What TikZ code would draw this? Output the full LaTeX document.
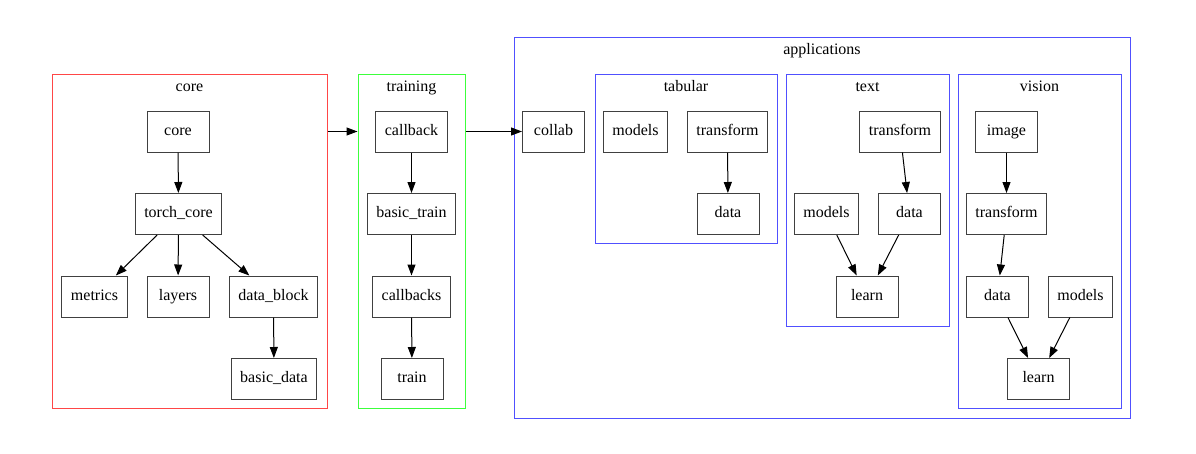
\documentclass[tikz,border=0pt]{standalone}
\usepackage{fontspec}
\setmainfont{Liberation Serif}
\usetikzlibrary{arrows.meta}

\definecolor{clred}{RGB}{255,70,70}
\definecolor{clgreen}{RGB}{60,255,60}
\definecolor{clblue}{RGB}{80,80,255}

\tikzset{
  mod/.style={draw=black!75, line width=1pt, minimum width=62, minimum height=41,
    inner xsep=9, text height=11, text depth=4, font=\fontsize{16}{19}\selectfont},
  grp/.style={draw=#1, line width=1pt, inner sep=0},
  ttl/.style={text height=11, text depth=4, font=\fontsize{16}{19}\selectfont},
  edge/.style={-{Triangle[length=11pt,width=8pt]}, line width=1pt}
}

\begin{document}
\begin{tikzpicture}[x=1pt, y=-1pt]
	\useasboundingbox (0,0) rectangle (1196,453);

	% clusters
	\node[grp=clred, minimum width=275, minimum height=334] (coreG) at (189.5,241) {};
	\node[grp=clgreen, minimum width=107, minimum height=334] (trainG) at (411.5,241) {};
	\node[grp=clblue, minimum width=616, minimum height=381] (appG) at (822,227.5) {};
	\node[grp=clblue, minimum width=182, minimum height=169] (tabG) at (686,158.5) {};
	\node[grp=clblue, minimum width=163, minimum height=252] (textG) at (867.5,200) {};
	\node[grp=clblue, minimum width=163, minimum height=334] (visG) at (1039.5,241) {};

	\node[ttl] (coreL) at (189.5,88) {core};
	\node[ttl] (trainL) at (411.5,88) {training};
	\node[ttl] (appL) at (822,51) {applications};
	\node[ttl] (tabL) at (686,88) {tabular};
	\node[ttl] (textL) at (867.5,88) {text};
	\node[ttl] (visL) at (1039.5,88) {vision};

	% core
	\node[mod] (core) at (178,131.5) {core};
	\node[mod] (torch) at (178.5,214) {torch\_core};
	\node[mod] (metrics) at (94.5,296.5) {metrics};
	\node[mod] (layers) at (178,296.5) {layers};
	\node[mod] (dblock) at (273.5,296.5) {data\_block};
	\node[mod] (bdata) at (274,379) {basic\_data};

	% training
	\node[mod] (cb) at (411.5,131.5) {callback};
	\node[mod] (btrain) at (411.5,214) {basic\_train};
	\node[mod] (cbs) at (411.5,296.5) {callbacks};
	\node[mod] (train) at (412,379) {train};

	% applications
	\node[mod] (collab) at (553.5,131.5) {collab};

	\node[mod] (tabmod) at (635.5,131.5) {models};
	\node[mod] (tabtf) at (727.5,131.5) {transform};
	\node[mod] (tabdata) at (728,214) {data};

	\node[mod] (txttf) at (900,131.5) {transform};
	\node[mod] (txtmod) at (826.5,214) {models};
	\node[mod] (txtdata) at (909.5,214) {data};
	\node[mod] (txtlearn) at (867,296.5) {learn};

	\node[mod] (visimg) at (1006.5,131.5) {image};
	\node[mod] (vistf) at (1006.5,214) {transform};
	\node[mod] (visdata) at (997.5,296.5) {data};
	\node[mod] (vismod) at (1080.5,296.5) {models};
	\node[mod] (vislearn) at (1038.5,379) {learn};

	\foreach \a/\b in {core/torch, torch/metrics, torch/layers, torch/dblock, dblock/bdata,
	                   cb/btrain, btrain/cbs, cbs/train, tabtf/tabdata,
	                   txttf/txtdata, txtmod/txtlearn, txtdata/txtlearn,
	                   visimg/vistf, vistf/visdata, visdata/vislearn, vismod/vislearn}{
	  \draw[edge] (\a) -- (\b);
	}

	\draw[edge] (coreG.east |- cb) -- (trainG.west |- cb);
	\draw[edge] (trainG.east |- collab) -- (collab);
\end{tikzpicture}
\end{document}
